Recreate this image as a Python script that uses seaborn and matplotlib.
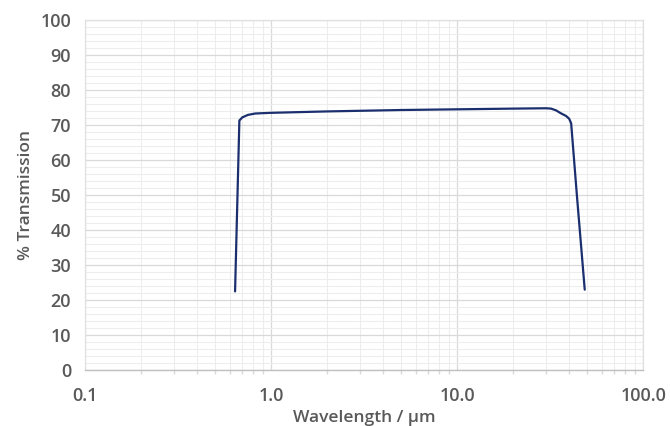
import matplotlib
matplotlib.use('Agg')
import matplotlib.pyplot as plt
import matplotlib.ticker as mticker
import seaborn as sns
import pandas as pd

# transmission curve
wavelength = [0.64, 0.675, 0.70, 0.75, 0.82, 0.90, 1.0, 2.0, 5.0, 10.0, 20.0,
              30.0, 32.0, 34.0, 36.0, 38.5, 40.0, 41.0, 44.0, 48.5]
transmission = [22.5, 71.3, 72.2, 72.9, 73.3, 73.4, 73.5, 73.9, 74.3, 74.5, 74.7,
                74.8, 74.7, 74.2, 73.4, 72.6, 71.8, 70.5, 50.0, 23.0]

xticks = [0.1, 1.0, 10.0, 100.0]
xtick_labels = ['0.1', '1.0', '10.0', '100.0']

sns.set_theme(style='white')
plt.rcParams['font.family'] = ['Open Sans', 'DejaVu Sans']

df = pd.DataFrame({'wl': wavelength, 'T': transmission})

fig, ax = plt.subplots(figsize=(6.7, 4.26), dpi=100)
fig.subplots_adjust(left=0.127, right=0.96, top=0.953, bottom=0.131)

sns.lineplot(data=df, x='wl', y='T', ax=ax, color='#1b2f6e', linewidth=1.6, sort=False)

ax.set_xscale('log')
ax.set_xlim(0.1, 100)
ax.set_ylim(0, 100)
ax.set_xticks(xticks)
ax.set_xticklabels(xtick_labels)
ax.xaxis.set_minor_locator(mticker.LogLocator(base=10, subs=range(2, 10)))
ax.xaxis.set_minor_formatter(mticker.NullFormatter())
ax.set_yticks(range(0, 101, 10))
ax.yaxis.set_minor_locator(mticker.MultipleLocator(2))

ax.grid(which='major', color='#d9d9d9', linewidth=0.9)
ax.grid(which='minor', color='#ededed', linewidth=0.8)
ax.set_axisbelow(True)

for side in ['top', 'right', 'left']:
    ax.spines[side].set_color('#e0e0e0')
    ax.spines[side].set_linewidth(0.9)
ax.spines['bottom'].set_color('#bfbfbf')
ax.spines['bottom'].set_linewidth(1.0)

ax.tick_params(axis='x', which='major', length=5, color='#bfbfbf', labelsize=13,
               labelcolor='#595959', pad=7)
ax.tick_params(axis='x', which='minor', length=3, color='#d9d9d9', bottom=True)
ax.tick_params(axis='y', which='both', length=0, labelsize=13, labelcolor='#595959', pad=10)
for lab in ax.get_xticklabels() + ax.get_yticklabels():
    lab.set_fontweight('semibold')

ax.set_xlabel('Wavelength / µm', fontsize=12.5, color='#595959', fontweight='semibold', labelpad=4)
ax.set_ylabel('% Transmission', fontsize=12.5, color='#595959', fontweight='semibold', labelpad=5)

plt.savefig('out.png', dpi=100)
